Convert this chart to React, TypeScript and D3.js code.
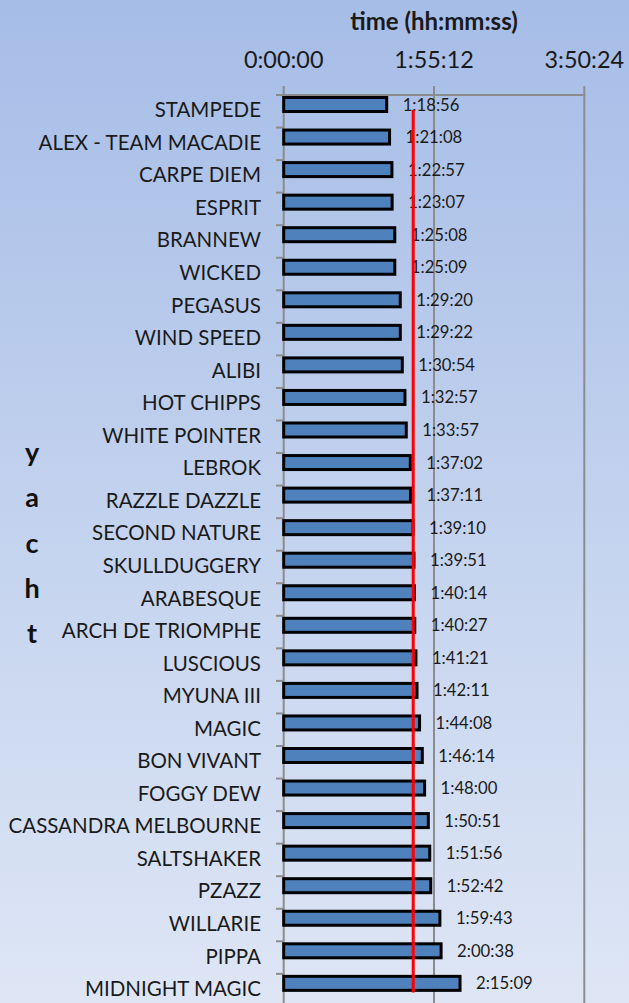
import React, { useEffect, useRef } from "react";
import * as d3 from "d3";

const yachts = [
  "STAMPEDE",
  "ALEX - TEAM MACADIE",
  "CARPE DIEM",
  "ESPRIT",
  "BRANNEW",
  "WICKED",
  "PEGASUS",
  "WIND SPEED",
  "ALIBI",
  "HOT CHIPPS",
  "WHITE POINTER",
  "LEBROK",
  "RAZZLE DAZZLE",
  "SECOND NATURE",
  "SKULLDUGGERY",
  "ARABESQUE",
  "ARCH DE TRIOMPHE",
  "LUSCIOUS",
  "MYUNA III",
  "MAGIC",
  "BON VIVANT",
  "FOGGY DEW",
  "CASSANDRA MELBOURNE",
  "SALTSHAKER",
  "PZAZZ",
  "WILLARIE",
  "PIPPA",
  "MIDNIGHT MAGIC",
];

const times = [
  "1:18:56", "1:21:08", "1:22:57", "1:23:07", "1:25:08", "1:25:09", "1:29:20",
  "1:29:22", "1:30:54", "1:32:57", "1:33:57", "1:37:02", "1:37:11", "1:39:10",
  "1:39:51", "1:40:14", "1:40:27", "1:41:21", "1:42:11", "1:44:08", "1:46:14",
  "1:48:00", "1:50:51", "1:51:56", "1:52:42", "1:59:43", "2:00:38", "2:15:09",
];

const xTicks = ["0:00:00", "1:55:12", "3:50:24"];

// red reference line (average time)
const referenceTime = "1:39:16";

const toSeconds = (t: string) => {
  const [h, m, s] = t.split(":").map(Number);
  return h * 3600 + m * 60 + s;
};

const width = 629;
const height = 1003;

const App: React.FC = () => {
  const svgRef = useRef<SVGSVGElement | null>(null);

  useEffect(() => {
    if (!svgRef.current) return;
    const svg = d3.select(svgRef.current);
    svg.selectAll("*").remove();

    const font = "Lato, 'Open Sans', sans-serif";

    // background gradient
    const defs = svg.append("defs");
    const grad = defs
      .append("linearGradient")
      .attr("id", "bg")
      .attr("x1", 0)
      .attr("y1", 0)
      .attr("x2", 0)
      .attr("y2", 1);
    grad.append("stop").attr("offset", "0%").attr("stop-color", "#a6bde7");
    grad.append("stop").attr("offset", "100%").attr("stop-color", "#dee6f5");
    svg
      .append("rect")
      .attr("width", width)
      .attr("height", height)
      .attr("fill", "url(#bg)");

    const tickSecs = xTicks.map(toSeconds);
    const x = d3
      .scaleLinear()
      .domain([0, tickSecs[tickSecs.length - 1]])
      .range([283.7, 584.3]);

    const y = d3
      .scaleBand<string>()
      .domain(yachts)
      .range([95, 95 + 32.55 * yachts.length])
      .paddingInner(0)
      .paddingOuter(0);

    const data = yachts.map((name, i) => ({
      name,
      label: times[i],
      value: toSeconds(times[i]),
    }));

    const grid = "#8c8c8c";

    // vertical gridlines + top ticks
    svg
      .append("g")
      .selectAll("line")
      .data(tickSecs)
      .join("line")
      .attr("x1", (d) => x(d))
      .attr("x2", (d) => x(d))
      .attr("y1", 86)
      .attr("y2", height)
      .attr("stroke", grid)
      .attr("stroke-width", 2);

    // top axis line
    svg
      .append("line")
      .attr("x1", 276)
      .attr("x2", x(tickSecs[tickSecs.length - 1]) + 1)
      .attr("y1", 95)
      .attr("y2", 95)
      .attr("stroke", grid)
      .attr("stroke-width", 2);

    // category ticks
    svg
      .append("g")
      .selectAll("line")
      .data(yachts.slice(1))
      .join("line")
      .attr("x1", 276)
      .attr("x2", x(0))
      .attr("y1", (d) => y(d)!)
      .attr("y2", (d) => y(d)!)
      .attr("stroke", grid)
      .attr("stroke-width", 2);

    // tick labels
    svg
      .append("g")
      .selectAll("text")
      .data(xTicks)
      .join("text")
      .attr("x", (d) => x(toSeconds(d)))
      .attr("y", 68)
      .attr("text-anchor", "middle")
      .attr("font-family", font)
      .attr("font-size", 23.4)
      .attr("fill", "#1a1a1a")
      .text((d) => d);

    // axis title
    svg
      .append("text")
      .attr("x", x(tickSecs[1]))
      .attr("y", 30)
      .attr("text-anchor", "middle")
      .attr("font-family", font)
      .attr("font-weight", "bold")
      .attr("font-size", 24)
      .attr("fill", "#1a1a1a")
      .text("time (hh:mm:ss)");

    // y axis title, stacked letters
    svg
      .append("g")
      .selectAll("text")
      .data("yacht".split(""))
      .join("text")
      .attr("x", 32)
      .attr("y", (_, i) => 462 + i * 45.3)
      .attr("text-anchor", "middle")
      .attr("font-family", font)
      .attr("font-weight", "bold")
      .attr("font-size", 27)
      .attr("fill", "#111")
      .text((d) => d);

    // category labels
    svg
      .append("g")
      .selectAll("text")
      .data(yachts)
      .join("text")
      .attr("x", 261)
      .attr("y", (d) => y(d)! + y.bandwidth() / 2 + 6)
      .attr("text-anchor", "end")
      .attr("font-family", font)
      .attr("font-size", 20.5)
      .attr("fill", "#1a1a1a")
      .text((d) => d);

    // bars
    const barH = 14;
    svg
      .append("g")
      .selectAll("rect")
      .data(data)
      .join("rect")
      .attr("x", x(0))
      .attr("y", (d) => y(d.name)! + 2.5)
      .attr("width", (d) => x(d.value) - x(0))
      .attr("height", barH)
      .attr("fill", "#4f81bd")
      .attr("stroke", "#000")
      .attr("stroke-width", 3);

    // data labels
    svg
      .append("g")
      .selectAll("text")
      .data(data)
      .join("text")
      .attr("x", (d) => x(d.value) + 16)
      .attr("y", (d) => y(d.name)! + 2.5 + barH / 2 + 6)
      .attr("font-family", font)
      .attr("font-size", 16.7)
      .attr("fill", "#1a1a1a")
      .text((d) => d.label);

    // reference line
    const refX = x(toSeconds(referenceTime));
    svg
      .append("line")
      .attr("x1", refX)
      .attr("x2", refX)
      .attr("y1", y(yachts[0])! + y.bandwidth() * 0.46)
      .attr("y2", y(yachts[yachts.length - 1])! + y.bandwidth() * 0.57)
      .attr("stroke", "#ff0000")
      .attr("stroke-width", 3);
  }, []);

  return (
    <div style={{ position: "absolute", left: 0, top: 0 }}>
      <svg ref={svgRef} width={width} height={height} style={{ display: "block" }}></svg>
    </div>
  );
};

export default App;
